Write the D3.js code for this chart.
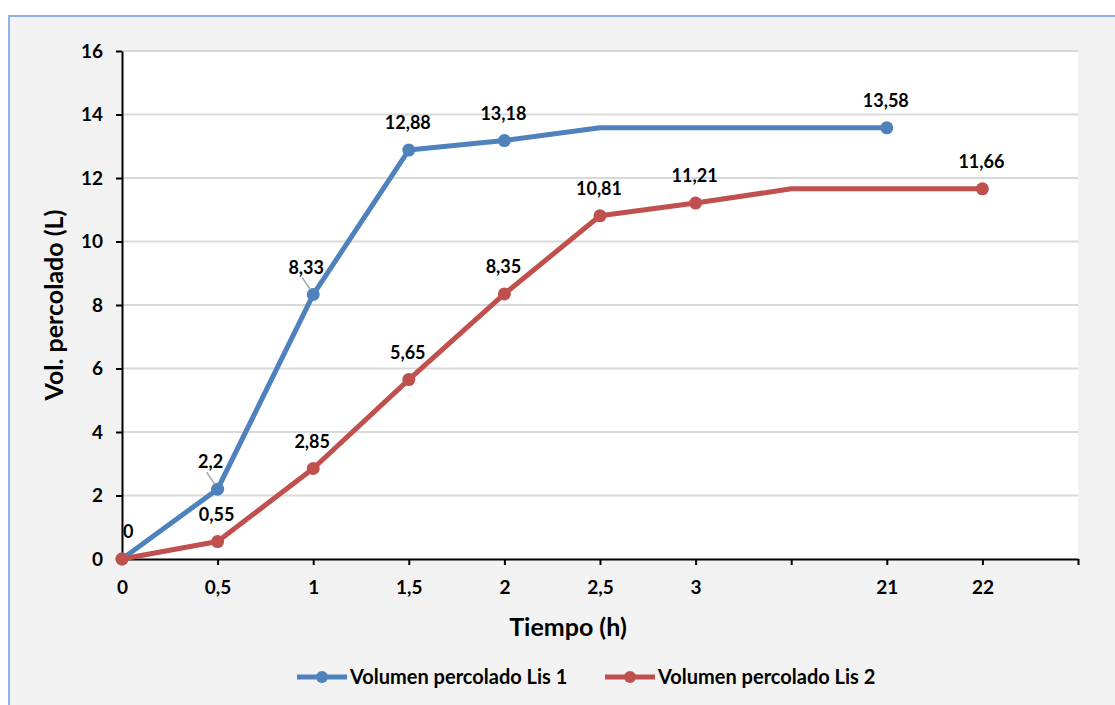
<!DOCTYPE html>
<html>
<head>
<meta charset="utf-8">
<script src="https://cdn.jsdelivr.net/npm/d3@7.9.0/dist/d3.min.js"></script>
<style>
  body { margin: 0; background: #fff; }
  text { font-family: Lato, "Noto Sans", sans-serif; font-weight: 700; fill: #000; }
</style>
</head>
<body>
<svg id="chart" width="1115" height="705"></svg>
<script>
// categories of the x axis (Excel category axis, two blank slots)
const categories = ['0', '0,5', '1', '1,5', '2', '2,5', '3', '', '21', '22', ''];
const lis1 = [0, 2.2, 8.33, 12.88, 13.18, 13.58, 13.58, 13.58, 13.58, null, null];
const lis2 = [0, 0.55, 2.85, 5.65, 8.35, 10.81, 11.21, 11.66, 11.66, 11.66, null];
// which points carry a data label
const lis1Labelled = [true, true, true, true, true, false, false, false, true, false, false];
const lis2Labelled = [false, true, true, true, true, true, true, false, false, true, false];
const yTicks = [0, 2, 4, 6, 8, 10, 12, 14, 16];
const seriesNames = ['Volumen percolado Lis 1', 'Volumen percolado Lis 2'];
const seriesColors = ['#4f81bd', '#c0504d'];

const series = [
  { name: seriesNames[0], color: seriesColors[0], values: lis1, labelled: lis1Labelled, nudged: [1, 2] },
  { name: seriesNames[1], color: seriesColors[1], values: lis2, labelled: lis2Labelled, nudged: [] }
];

const svg = d3.select('#chart');

// outer chart frame
svg.append('rect')
  .attr('x', 9).attr('y', 16).attr('width', 1120).attr('height', 700)
  .attr('fill', '#f2f2f2').attr('stroke', '#8eb4e3').attr('stroke-width', 2);

const plotL = 122, plotR = 1078, plotT = 51, plotB = 559;

const x = d3.scalePoint()
  .domain(d3.range(categories.length))
  .range([plotL, plotR]);

const y = d3.scaleLinear()
  .domain([0, 16])
  .range([plotB, plotT]);

// plot area
svg.append('rect')
  .attr('x', plotL).attr('y', plotT).attr('width', plotR - plotL).attr('height', plotB - plotT)
  .attr('fill', '#fff');

// gridlines
svg.append('g')
  .selectAll('line')
  .data(yTicks.filter(d => d > 0))
  .join('line')
  .attr('x1', plotL).attr('x2', plotR)
  .attr('y1', d => y(d)).attr('y2', d => y(d))
  .attr('stroke', '#d9d9d9').attr('stroke-width', 2);

// y axis
const yAxis = svg.append('g')
  .attr('transform', `translate(${plotL},0)`)
  .call(d3.axisLeft(y).tickValues(yTicks).tickSize(6).tickPadding(13).tickSizeOuter(0));
yAxis.selectAll('text').style('font-size', '19px');

// x axis
const xAxis = svg.append('g')
  .attr('transform', `translate(0,${plotB})`)
  .call(d3.axisBottom(x).tickFormat(i => categories[i]).tickSize(6).tickPadding(16).tickSizeOuter(0));
xAxis.selectAll('text').style('font-size', '19px');

[yAxis, xAxis].forEach(a => {
  a.select('.domain').attr('stroke', '#000').attr('stroke-width', 2);
  a.selectAll('.tick line').attr('stroke', '#000').attr('stroke-width', 2);
});

// axis titles
svg.append('text')
  .attr('transform', 'translate(63,305) rotate(-90)')
  .attr('text-anchor', 'middle')
  .style('font-size', '25px')
  .text('Vol. percolado (L)');

svg.append('text')
  .attr('x', 568).attr('y', 636)
  .attr('text-anchor', 'middle')
  .style('font-size', '25px')
  .text('Tiempo (h)');

const line = d3.line()
  .defined(d => d.v !== null)
  .x(d => x(d.i))
  .y(d => y(d.v));

// lines + markers
series.forEach(s => {
  const pts = s.values.map((v, i) => ({ v, i }));
  const g = svg.append('g');
  g.append('path')
    .datum(pts)
    .attr('d', line)
    .attr('fill', 'none')
    .attr('stroke', s.color)
    .attr('stroke-width', 5)
    .attr('stroke-linejoin', 'round');
  g.selectAll('circle')
    .data(pts.filter(d => d.v !== null && (s.labelled[d.i] || d.i === 0)))
    .join('circle')
    .attr('cx', d => x(d.i))
    .attr('cy', d => y(d.v))
    .attr('r', 6.5)
    .attr('fill', s.color);
});

// data labels (a couple of blue ones were dragged a little left, with a leader line)
series.forEach(s => {
  const pts = s.values.map((v, i) => ({ v, i })).filter(d => d.v !== null && s.labelled[d.i]);
  svg.append('g')
    .selectAll('text')
    .data(pts)
    .join('text')
    .attr('x', d => x(d.i) + (d.i === 0 ? 1 : s.nudged.includes(d.i) ? -7 : -1))
    .attr('y', d => y(d.v) - 21)
    .attr('text-anchor', d => d.i === 0 ? 'start' : 'middle')
    .style('font-size', '18px')
    .text(d => String(d.v).replace('.', ','));

  svg.append('g')
    .selectAll('line')
    .data(s.nudged)
    .join('line')
    .attr('x1', i => x(i) - 11).attr('y1', i => y(s.values[i]) - 17)
    .attr('x2', i => x(i) - 3).attr('y2', i => y(s.values[i]) - 5)
    .attr('stroke', '#a6a6a6').attr('stroke-width', 1.5);
});

// legend
const legendX = [297, 605];
series.forEach((s, k) => {
  const g = svg.append('g').attr('transform', `translate(${legendX[k]},677)`);
  g.append('line').attr('x1', 0).attr('x2', 50).attr('y1', 0).attr('y2', 0)
    .attr('stroke', s.color).attr('stroke-width', 5);
  g.append('circle').attr('cx', 25).attr('cy', 0).attr('r', 6).attr('fill', s.color);
  g.append('text').attr('x', 53).attr('y', 7).style('font-size', '20px').text(s.name);
});
</script>
</body>
</html>
